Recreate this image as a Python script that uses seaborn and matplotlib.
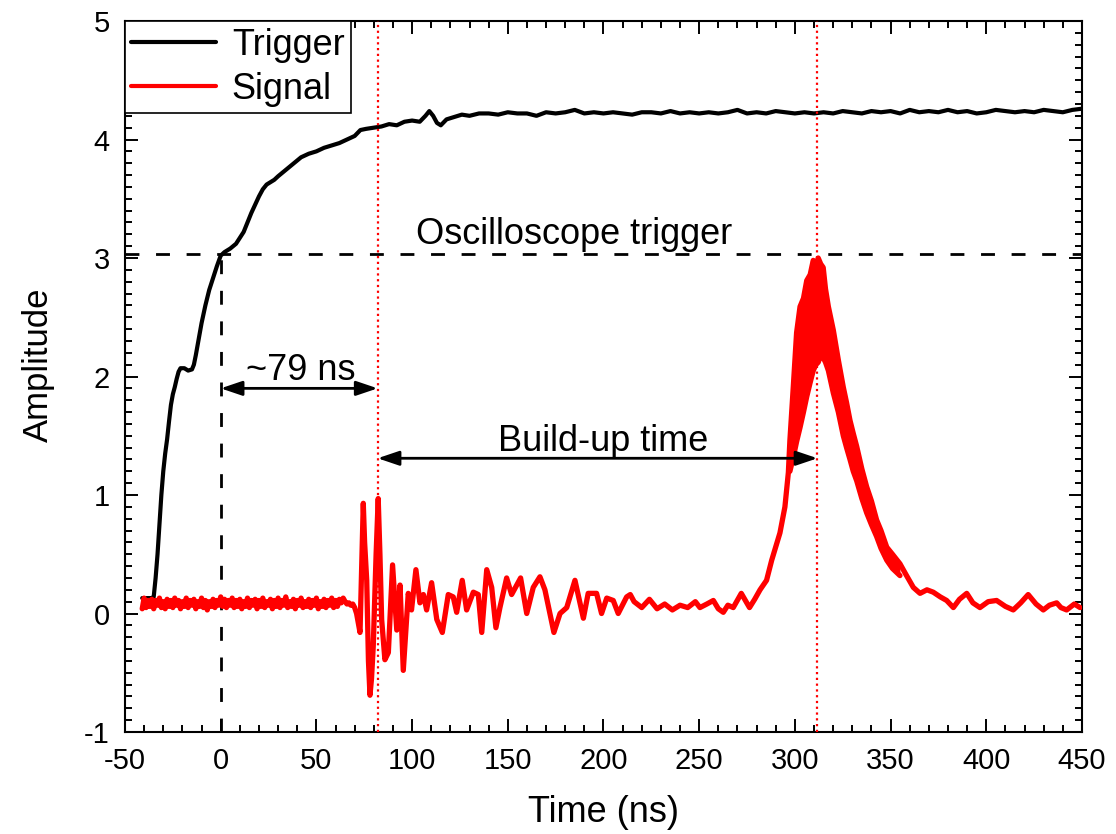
import numpy as np
import pandas as pd
import seaborn as sns
import matplotlib
matplotlib.use("Agg")
import matplotlib.pyplot as plt
from matplotlib.ticker import MultipleLocator

# ---------------- data ----------------
trig_t = [-41, -36, -35, -34, -33, -32, -31, -30, -29, -28, -27, -26, -25, -24, -23, -22,
          -21, -19, -17, -15, -14, -13, -12, -11, -10, -8, -6, -4, -2, 0, 2, 5, 8, 10,
          12, 14, 16, 18, 20, 22, 24, 26, 28, 30, 33, 36, 39, 42, 46, 50, 54, 58, 62,
          66, 70, 73, 76, 80, 84, 88, 92, 96, 100, 104, 107, 109, 111, 113, 115, 118,
          122, 126, 130, 135, 140, 145, 150, 155, 160, 165, 170, 175, 180, 185, 190,
          195, 200, 205, 210, 215, 220, 225, 230, 235, 240, 245, 250, 255, 260, 265,
          270, 275, 280, 285, 290, 295, 300, 305, 310, 315, 320, 325, 330, 335, 340,
          345, 350, 355, 360, 365, 370, 375, 380, 385, 390, 395, 400, 405, 410, 415,
          420, 425, 430, 435, 440, 445, 450]
trig_v = [0.13, 0.13, 0.14, 0.30, 0.50, 0.75, 1.00, 1.20, 1.35, 1.47, 1.62, 1.76, 1.85, 1.91, 1.98, 2.04,
          2.07, 2.07, 2.05, 2.06, 2.10, 2.18, 2.27, 2.36, 2.45, 2.60, 2.73, 2.83, 2.93, 3.02, 3.05, 3.08, 3.12, 3.17,
          3.22, 3.30, 3.38, 3.45, 3.52, 3.58, 3.62, 3.64, 3.66, 3.69, 3.73, 3.77, 3.81, 3.85, 3.88, 3.90, 3.93, 3.95, 3.97,
          4.00, 4.03, 4.08, 4.09, 4.10, 4.11, 4.13, 4.12, 4.15, 4.16, 4.15, 4.20, 4.24, 4.20, 4.14, 4.12, 4.17,
          4.19, 4.21, 4.20, 4.22, 4.22, 4.21, 4.23, 4.22, 4.22, 4.20, 4.23, 4.22, 4.23, 4.25, 4.22,
          4.23, 4.22, 4.23, 4.22, 4.21, 4.23, 4.23, 4.22, 4.24, 4.22, 4.23, 4.22, 4.23, 4.22, 4.23,
          4.25, 4.22, 4.23, 4.22, 4.24, 4.23, 4.22, 4.23, 4.22, 4.23, 4.22, 4.24, 4.23, 4.22, 4.24,
          4.23, 4.24, 4.22, 4.25, 4.23, 4.24, 4.23, 4.25, 4.23, 4.24, 4.22, 4.23, 4.25, 4.24, 4.23,
          4.24, 4.23, 4.25, 4.24, 4.23, 4.25, 4.26]

# baseline of the signal, one sample per ns from -41 to 68
base_t = list(range(-41, 69))
base_v = [0.04, 0.13, 0.05, 0.11, 0.06, 0.12, 0.04, 0.11, 0.07, 0.13,
          0.05, 0.10, 0.04, 0.12, 0.06, 0.11, 0.05, 0.13, 0.07, 0.11,
          0.04, 0.10, 0.06, 0.13, 0.05, 0.11, 0.07, 0.12, 0.04, 0.10,
          0.06, 0.13, 0.05, 0.11, 0.03, 0.10, 0.06, 0.12, 0.05, 0.11,
          0.07, 0.14, 0.06, 0.12, 0.05, 0.11, 0.07, 0.13, 0.05, 0.11,
          0.06, 0.12, 0.04, 0.10, 0.06, 0.13, 0.05, 0.11, 0.07, 0.12,
          0.04, 0.11, 0.06, 0.13, 0.05, 0.10, 0.07, 0.12, 0.04, 0.11,
          0.06, 0.13, 0.05, 0.11, 0.07, 0.14, 0.05, 0.10, 0.06, 0.12,
          0.04, 0.11, 0.07, 0.13, 0.05, 0.10, 0.06, 0.12, 0.05, 0.11,
          0.07, 0.13, 0.04, 0.10, 0.06, 0.12, 0.05, 0.11, 0.07, 0.13,
          0.05, 0.11, 0.06, 0.12, 0.09, 0.13, 0.10, 0.08, 0.09, 0.07]

# ringing after the pump pulse
ring_t = [69, 70, 71, 72.8, 73.8, 74.5, 75.2, 76.3, 77.2, 78, 78.8, 79.7, 81.2, 82.3, 83.2,
          84.1, 85.8, 87.6, 89.8, 92, 93.7, 95.4, 98, 99.7, 102, 104.1, 105.9, 107.6,
          110.2, 112.9, 115.8, 118.9, 121.5, 123.3, 126.2, 128.5, 132, 134.6, 136.4,
          139, 141.6, 143.8, 145.9, 149.4, 152, 156.7, 159.9, 163.3, 166.8, 169.4,
          174.1, 177.3, 180.8, 185.1, 189.5, 192, 196.4, 199, 201.7, 205.1, 207.7,
          212.1, 214, 216, 220, 224, 228, 232, 236, 240, 244, 248]
ring_v = [0.08, 0.05, 0.00, -0.16, 0.50, 0.93, 0.60, 0.28, -0.40, -0.69, -0.55, -0.28, 0.50, 0.97, 0.50,
          -0.05, -0.39, -0.33, 0.41, -0.14, 0.24, -0.48, 0.17, 0.03, 0.37, 0.09, 0.16, 0.03,
          0.26, -0.05, -0.16, 0.16, 0.14, 0.01, 0.28, 0.03, 0.18, 0.16, -0.16,
          0.37, 0.22, -0.12, 0.05, 0.30, 0.16, 0.30, 0.00, 0.22, 0.31, 0.20,
          -0.16, 0.00, 0.05, 0.28, -0.04, 0.17, 0.17, 0.00, 0.13, 0.11, 0.00,
          0.14, 0.16, 0.10, 0.05, 0.12, 0.04, 0.08, 0.03, 0.07, 0.05, 0.10]

# slow rise before the build-up peak
rise_t = [250.4, 254, 257.4, 260, 262.6, 265, 267.8, 272, 276.3, 279, 281.8, 285.2, 287.9,
          292.2, 294.8, 296.6]
rise_v = [0.05, 0.08, 0.11, 0.04, 0.01, 0.07, 0.05, 0.17, 0.05, 0.12, 0.20, 0.28, 0.45,
          0.68, 0.90, 1.19]

# peak: upper and lower envelopes of the fast-oscillating signal
peak_t = [297.4, 299.2, 300.9, 302.7, 304.5, 306.2, 308, 309.6, 311, 312.2, 313.5, 314.8,
          316, 317.5, 320.1, 322.7, 325.3, 327, 328.8, 330.5, 332.3, 335, 337.5, 340,
          342.7, 345, 348.0, 351, 354.9]
peak_hi = [1.46, 1.92, 2.37, 2.59, 2.66, 2.81, 2.86, 2.98, 2.93, 3.00, 2.95, 2.92,
           2.74, 2.59, 2.39, 2.14, 1.91, 1.78, 1.63, 1.52, 1.41, 1.22, 1.07, 0.95,
           0.79, 0.70, 0.56, 0.50, 0.42]
peak_lo = [1.20, 1.32, 1.45, 1.57, 1.70, 1.83, 1.95, 2.05, 2.10, 2.12, 2.18, 2.16,
           2.12, 2.05, 1.86, 1.70, 1.50, 1.40, 1.30, 1.20, 1.12, 0.97, 0.85, 0.75,
           0.65, 0.55, 0.45, 0.38, 0.32]

# tail after the peak
tail_t = [358, 361.9, 365.4, 369, 372.3, 376, 379.3, 382.8, 386, 389.8, 393, 396.7, 401,
          405.4, 410, 414.1, 418, 421.9, 426, 429.8, 433, 436.8, 439, 442, 446, 449]
tail_v = [0.33, 0.22, 0.17, 0.20, 0.18, 0.14, 0.11, 0.05, 0.12, 0.17, 0.09, 0.05, 0.10,
          0.11, 0.06, 0.03, 0.09, 0.16, 0.08, 0.03, 0.07, 0.09, 0.05, 0.03, 0.08, 0.05]

trig_level = 3.03      # oscilloscope trigger level
t_first = 82.0         # first dotted marker (ns)
t_peak = 311.8         # second dotted marker (ns)

# ---------------- plotting ----------------
sns.set_style("ticks")
plt.rcParams["font.family"] = ["Liberation Sans", "DejaVu Sans"]
plt.rcParams["axes.unicode_minus"] = False
for k in ["text.color", "axes.labelcolor", "xtick.color", "ytick.color", "axes.edgecolor"]:
    plt.rcParams[k] = "black"

fig = plt.figure(figsize=(11.16, 8.34), dpi=100)
ax = fig.add_axes([0.1120, 0.1223, 0.8575, 0.8525])

RED = "#ff0000"
trig_df = pd.DataFrame({"t": trig_t, "v": trig_v})
sig_df = pd.DataFrame({"t": base_t + ring_t + rise_t + peak_t + tail_t,
                       "v": base_v + ring_v + rise_v + peak_hi + tail_v})
lo_df = pd.DataFrame({"t": peak_t, "v": peak_lo})

sns.lineplot(data=trig_df, x="t", y="v", ax=ax, color="black", lw=3.0,
             sort=False, label="Trigger", zorder=3)
sns.lineplot(data=sig_df, x="t", y="v", ax=ax, color=RED, lw=3.8,
             sort=False, label="Signal", zorder=4)
sns.lineplot(data=lo_df, x="t", y="v", ax=ax, color=RED, lw=3.8,
             sort=False, legend=False, zorder=4)
ax.fill_between(peak_t, peak_lo, peak_hi, color=RED, lw=0, zorder=4)

# reference lines
dash = (0, (5.0, 6.0))
ax.axhline(trig_level, color="black", lw=2.0, ls=dash, zorder=2)
ax.plot([0, 0], [-1, trig_level], color="black", lw=2.0, ls=dash, zorder=2)
ax.axvline(t_first, color=RED, lw=1.6, ls=(0, (1, 1.6)), zorder=5)
ax.axvline(t_peak, color=RED, lw=1.6, ls=(0, (1, 1.6)), zorder=5)

# arrows and annotations
aprops = dict(arrowstyle="<|-|>,head_length=0.65,head_width=0.22", color="black",
              lw=2.0, shrinkA=0, shrinkB=0, mutation_scale=20)
ax.annotate("", xy=(t_first, 1.90), xytext=(0, 1.90), arrowprops=aprops, zorder=6)
ax.annotate("", xy=(t_peak, 1.31), xytext=(t_first, 1.31), arrowprops=aprops, zorder=6)
ax.text(41.7, 1.97, "~79 ns", fontsize=26, ha="center", va="baseline")
ax.text(200, 1.37, "Build-up time", fontsize=26, ha="center", va="baseline")
ax.text(184.6, 3.12, "Oscilloscope trigger", fontsize=26, ha="center", va="baseline")

# axes
ax.set_xlim(-50, 450)
ax.set_ylim(-1, 5)
ax.set_xticks(list(range(-50, 451, 50)))
ax.set_yticks(list(range(-1, 6)))
ax.xaxis.set_minor_locator(MultipleLocator(10))
ax.yaxis.set_minor_locator(MultipleLocator(0.1))
ax.tick_params(which="both", direction="in", top=True, right=True, width=1.4,
               colors="black", labelsize=21, pad=11)
ax.tick_params(which="major", length=9.5)
ax.tick_params(which="minor", length=5)
for s in ax.spines.values():
    s.set_linewidth(1.5)
    s.set_color("black")
    s.set_visible(True)
ax.set_xlabel("Time (ns)", fontsize=26, labelpad=14)
ax.set_ylabel("Amplitude", fontsize=25)
ax.yaxis.set_label_coords(-0.073, 0.516)

leg = ax.legend(loc="upper left", fontsize=26, frameon=True, fancybox=False,
                borderaxespad=0, handlelength=2.33, handletextpad=0.45,
                borderpad=0.18, labelspacing=0.25)
leg.get_frame().set_edgecolor("black")
leg.get_frame().set_linewidth(1.2)
leg.get_frame().set_alpha(1)
for h in leg.get_lines():
    h.set_linewidth(3)

fig.savefig("out.png", dpi=100)
